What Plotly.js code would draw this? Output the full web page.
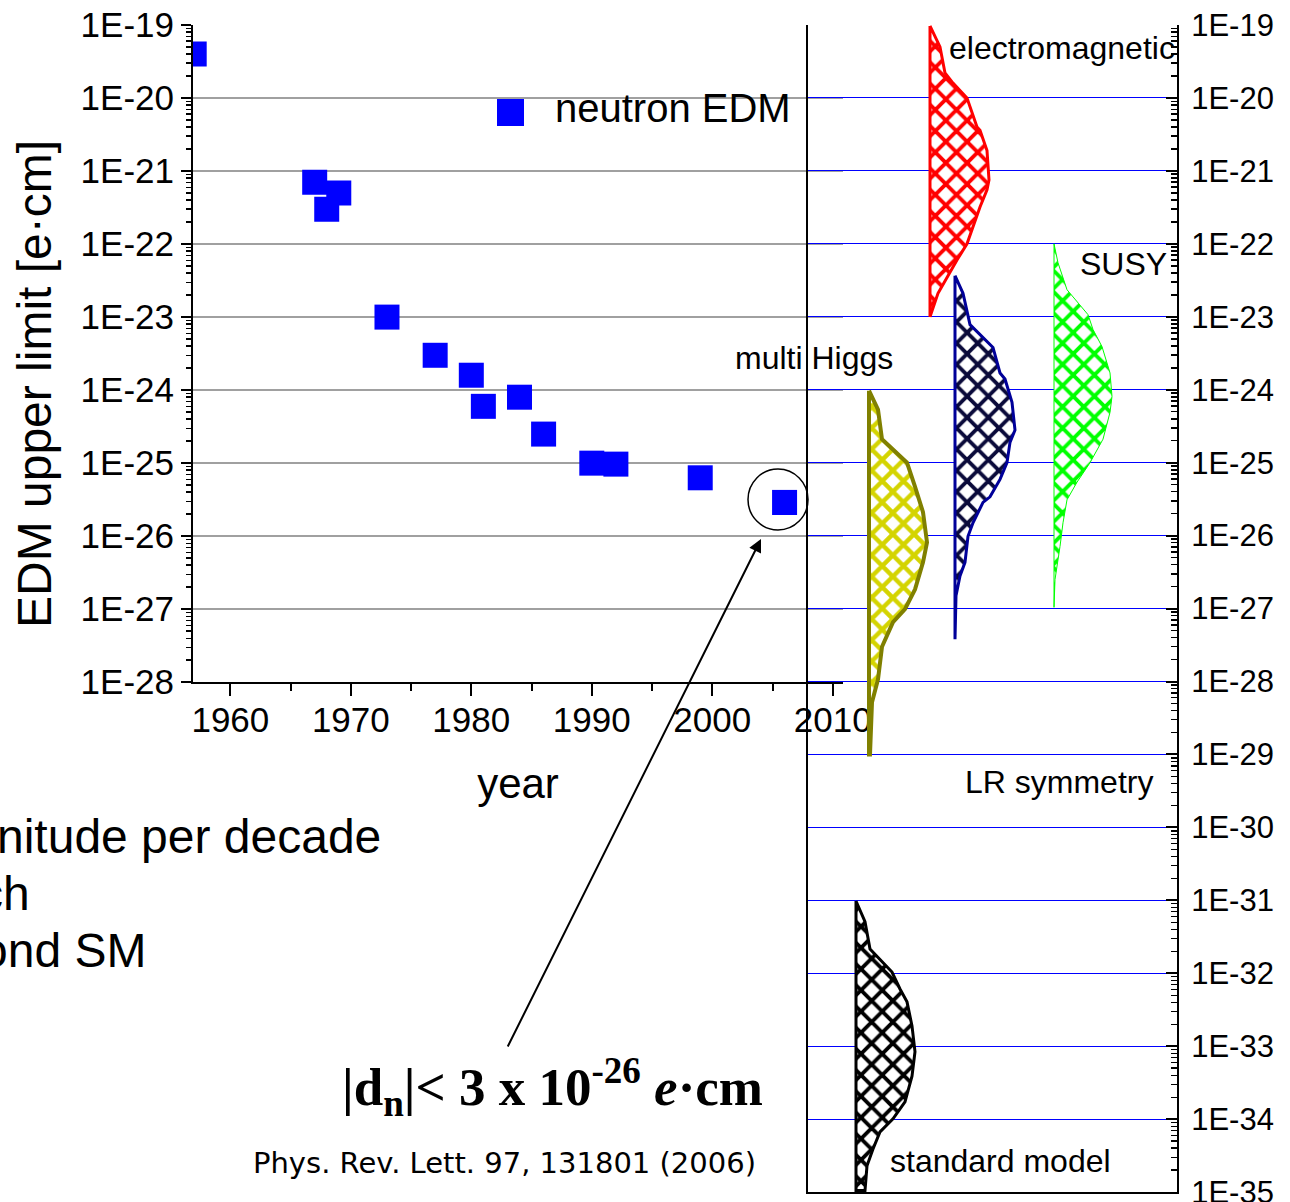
<!DOCTYPE html>
<html><head><meta charset="utf-8">
<script src="https://cdn.plot.ly/plotly-3.0.1.min.js"></script>
<style>html,body{margin:0;padding:0;background:#fff;}#chart{width:1290px;height:1202px;}</style>
</head><body><div id="chart"></div>
<script>
// ---- measured neutron EDM upper limits ----
const years = [1957, 1967, 1968, 1969, 1973, 1977, 1980, 1981, 1984, 1986, 1990, 1992, 1999, 2006];
const edmLimits = [4e-20, 7e-22, 3e-22, 5e-22, 1e-23, 3e-24, 1.6e-24, 6e-25, 8e-25, 2.5e-25, 1.0e-25, 0.97e-25, 6.3e-26, 2.9e-26];

// ---- tick labels ----
const yearTicks = [1960, 1970, 1980, 1990, 2000, 2010];
const yearTickText = ['1960', '1970', '1980', '1990', '2000', '2010'];
const yearMinor = [1965, 1975, 1985, 1995, 2005];
const leftExponents = [-19, -20, -21, -22, -23, -24, -25, -26, -27, -28];
const leftTickText = ['1E-19','1E-20','1E-21','1E-22','1E-23','1E-24','1E-25','1E-26','1E-27','1E-28'];
const rightExponents = [-19,-20,-21,-22,-23,-24,-25,-26,-27,-28,-29,-30,-31,-32,-33,-34,-35];
const rightTickText = ['1E-19','1E-20','1E-21','1E-22','1E-23','1E-24','1E-25','1E-26','1E-27','1E-28','1E-29','1E-30','1E-31','1E-32','1E-33','1E-34','1E-35'];

// ---- theory predictions: EDM value and profile width ----
const emEDM = [9.7e-20, 5.0e-20, 2.2e-20, 1.6e-20, 1.0e-20, 4.0e-21, 3.6e-21, 1.9e-21, 7.5e-22, 5.5e-22, 3.2e-22, 1.7e-22, 1.0e-22, 6.0e-23, 3.5e-23, 2.1e-23, 1.0e-23];
const emWidth = [0, 10, 15, 23, 37, 47, 50, 57, 59, 57, 50, 43, 37, 27, 17, 8, 0];

const lrEDM = [3.66e-23, 2.1e-23, 7.8e-24, 3.8e-24, 1.7e-24, 1.4e-24, 6.7e-25, 2.8e-25, 1.9e-25, 1.0e-25, 5.9e-26, 3.4e-26, 2.85e-26, 1.5e-26, 9.8e-27, 4.3e-27, 2.8e-27, 1.5e-27, 3.8e-28];
const lrWidth = [0, 8, 15, 38, 45, 50, 57, 60, 55, 52, 45, 35, 28, 18, 13, 10, 5, 1, 0];

const susyEDM = [1.0e-22, 5.5e-23, 2.35e-23, 1.07e-23, 6.7e-24, 3.9e-24, 1.7e-24, 8.1e-25, 4.9e-25, 2.1e-25, 1.0e-25, 5.4e-26, 3.1e-26, 1.5e-26, 7.1e-27, 2.5e-27, 1.04e-27];
const susyWidth = [0, 4, 13, 34, 39, 48, 56, 58, 56, 49, 36, 23, 13, 9, 6, 1, 0];

const higgsEDM = [9.7e-25, 5.35e-25, 2.1e-25, 1.38e-25, 1.0e-25, 4.7e-26, 2.1e-26, 8.1e-27, 4.3e-27, 1.83e-27, 9.8e-28, 6.5e-28, 3.0e-28, 1.07e-28, 5.2e-29, 1.0e-29];
const higgsWidth = [0, 9, 13, 28, 38, 46, 54, 58, 54, 46, 36, 24, 13, 9, 3, 1];

const smEDM = [9.8e-32, 5.1e-32, 2.16e-32, 1.04e-32, 6.1e-33, 4.06e-33, 1.9e-33, 8.4e-34, 3.9e-34, 1.73e-34, 1.01e-34, 6.7e-35, 3.9e-35, 2.3e-35, 1.05e-35];
const smWidth = [0, 9, 14, 36, 44, 51, 56, 59, 56, 49, 37, 24, 17, 11, 9];

// ---- geometry helpers (pixels -> paper) ----
const W = 1290, H = 1202;
const px = v => v / W;
const py = v => 1 - v / H;
const FONT = "'Liberation Sans', Arial, Helvetica, sans-serif";

const leftTickVals = leftExponents.map(e => Math.pow(10, e));
const rightTickVals = rightExponents.map(e => Math.pow(10, e));
function minorVals(exps) {
  const out = [];
  exps.forEach(e => { for (let k = 2; k <= 9; k++) out.push(k * Math.pow(10, e)); });
  return out;
}

function band(base, edm, width, name, lineColor, lineW, fg, sol) {
  const xs = [], ys = [];
  for (let i = 0; i < edm.length; i++) { xs.push(base + width[i]); ys.push(edm[i]); }
  xs.push(base); ys.push(edm[edm.length - 1]);
  xs.push(base); ys.push(edm[0]);
  return {
    type: 'scatter', mode: 'lines', name: name, x: xs, y: ys,
    xaxis: 'x2', yaxis: 'y2', fill: 'toself', fillcolor: 'white',
    line: { color: lineColor, width: lineW, shape: 'linear' },
    fillpattern: { shape: 'x', size: 15, solidity: sol, fgcolor: fg, bgcolor: 'white' },
    hoverinfo: 'skip', showlegend: false
  };
}

const traces = [
  {
    type: 'scatter', mode: 'markers', name: 'neutron EDM', x: years, y: edmLimits,
    xaxis: 'x', yaxis: 'y', cliponaxis: true,
    marker: { symbol: 'square', size: 25, color: '#0000ff', line: { width: 0 } },
    showlegend: false
  },
  band(122, emEDM, emWidth, 'electromagnetic', '#ff0000', 3, '#ff0000', 0.45),
  band(147, lrEDM, lrWidth, 'LR symmetry', '#000099', 3, '#0a0a3a', 0.45),
  band(246, susyEDM, susyWidth, 'SUSY', '#00ff00', 1, '#00ff00', 0.45),
  band(61, higgsEDM, higgsWidth, 'multi Higgs', '#808000', 4, '#d4d400', 0.5),
  band(48, smEDM, smWidth, 'standard model', '#000000', 3, '#000000', 0.45)
];

const layout = {
  width: W, height: H,
  margin: { l: 0, r: 0, t: 0, b: 0 },
  paper_bgcolor: 'white', plot_bgcolor: 'rgba(0,0,0,0)',
  showlegend: false,
  font: { family: FONT, color: 'black' },
  xaxis: {
    domain: [px(193), px(843)], range: [1956.9, 2010.85], anchor: 'y',
    showline: true, linecolor: 'black', linewidth: 2,
    ticks: 'outside', ticklen: 12, tickwidth: 2, tickcolor: 'black',
    tickmode: 'array', tickvals: yearTicks, ticktext: yearTickText,
    tickfont: { family: FONT, size: 35, color: 'black' },
    ticklabelstandoff: -6,
    minor: { tickmode: 'array', tickvals: yearMinor, ticks: 'outside', ticklen: 7, tickwidth: 2, tickcolor: 'black', showgrid: false },
    showgrid: false, zeroline: false,
    title: { text: 'year', font: { family: FONT, size: 42, color: 'black' }, standoff: 30 }
  },
  yaxis: {
    type: 'log', domain: [py(682.3), py(25)], range: [-28.001, -19], anchor: 'x',
    showline: true, linecolor: 'black', linewidth: 2,
    ticks: 'outside', ticklen: 10, tickwidth: 2, tickcolor: 'black',
    tickmode: 'array', tickvals: leftTickVals, ticktext: leftTickText,
    tickfont: { family: FONT, size: 35, color: 'black' },
    minor: { tickmode: 'array', tickvals: minorVals(leftExponents), ticks: 'outside', ticklen: 5, tickwidth: 1.5, tickcolor: 'black', showgrid: false },
    showgrid: true, gridcolor: '#a0a0a0', gridwidth: 1.5, zeroline: false
  },
  xaxis2: {
    domain: [px(808), px(1177)], range: [0, 369], anchor: 'y2',
    showline: true, linecolor: 'black', linewidth: 2,
    showticklabels: false, ticks: '', showgrid: false, zeroline: false
  },
  yaxis2: {
    type: 'log', domain: [py(1192.3), py(25)], range: [-35.002, -19], anchor: 'x2', side: 'right',
    showline: true, mirror: true, linecolor: 'black', linewidth: 2,
    ticks: 'inside', ticklen: 11, tickwidth: 2, tickcolor: 'black',
    tickmode: 'array', tickvals: rightTickVals, ticktext: rightTickText,
    tickfont: { family: FONT, size: 31, color: 'black' },
    ticklabelstandoff: 6, ticklabeloverflow: 'allow',
    minor: { tickmode: 'array', tickvals: minorVals(rightExponents), ticks: 'inside', ticklen: 6, tickwidth: 1.5, tickcolor: 'black', showgrid: false },
    showgrid: true, gridcolor: '#0000ff', gridwidth: 1, zeroline: false
  },
  shapes: [
    { type: 'rect', xref: 'paper', yref: 'paper', x0: px(497), x1: px(524), y0: py(126), y1: py(99), fillcolor: '#0000ff', line: { width: 0 } },
    { type: 'circle', xref: 'paper', yref: 'paper', x0: px(748), x1: px(808), y0: py(530), y1: py(469), line: { color: 'black', width: 1.5 } }
  ],
  annotations: [
    { xref: 'paper', yref: 'paper', x: px(553), y: py(108), xanchor: 'left', yanchor: 'middle', showarrow: false,
      text: 'neutron EDM', font: { family: FONT, size: 40, color: 'black' } },
    { xref: 'paper', yref: 'paper', x: px(35), y: py(384), xanchor: 'center', yanchor: 'middle', showarrow: false, textangle: -90,
      text: 'EDM upper limit [e·cm]', font: { family: FONT, size: 48, color: 'black' } },
    { xref: 'paper', yref: 'paper', x: px(1062), y: py(48), xanchor: 'center', yanchor: 'middle', showarrow: false,
      text: 'electromagnetic', font: { family: FONT, size: 32, color: 'black' } },
    { xref: 'paper', yref: 'paper', x: px(1123), y: py(264), xanchor: 'center', yanchor: 'middle', showarrow: false,
      text: 'SUSY', font: { family: FONT, size: 32, color: 'black' } },
    { xref: 'paper', yref: 'paper', x: px(814), y: py(358), xanchor: 'center', yanchor: 'middle', showarrow: false,
      text: 'multi Higgs', font: { family: FONT, size: 32, color: 'black' } },
    { xref: 'paper', yref: 'paper', x: px(1059), y: py(782), xanchor: 'center', yanchor: 'middle', showarrow: false,
      text: 'LR symmetry', font: { family: FONT, size: 32, color: 'black' } },
    { xref: 'paper', yref: 'paper', x: px(1000), y: py(1161), xanchor: 'center', yanchor: 'middle', showarrow: false,
      text: 'standard model', font: { family: FONT, size: 32, color: 'black' } },
    { xref: 'paper', yref: 'paper', x: px(383), y: py(836), xanchor: 'right', yanchor: 'middle', showarrow: false,
      text: 'nitude per decade', font: { family: FONT, size: 48, color: 'black' } },
    { xref: 'paper', yref: 'paper', x: px(32), y: py(893), xanchor: 'right', yanchor: 'middle', showarrow: false,
      text: 'ch', font: { family: FONT, size: 48, color: 'black' } },
    { xref: 'paper', yref: 'paper', x: px(148), y: py(950), xanchor: 'right', yanchor: 'middle', showarrow: false,
      text: 'ond SM', font: { family: FONT, size: 48, color: 'black' } },
    { xref: 'paper', yref: 'paper', x: px(552), y: py(1087), xanchor: 'center', yanchor: 'middle', showarrow: false,
      text: '<b>|d<sub>n</sub>|&lt; 3 x 10<sup>-26</sup> <i>e</i>·cm</b>', font: { family: "'Liberation Serif', 'Times New Roman', serif", size: 53, color: 'black' } },
    { xref: 'paper', yref: 'paper', x: px(505), y: py(1163), xanchor: 'center', yanchor: 'middle', showarrow: false,
      text: 'Phys. Rev. Lett. 97, 131801 (2006)', font: { family: "'DejaVu Sans', sans-serif", size: 29, color: 'black' } },
    { xref: 'paper', yref: 'paper', x: px(761), y: py(539), axref: 'pixel', ayref: 'pixel', ax: -254, ay: 509,
      showarrow: true, arrowhead: 2, arrowsize: 1.3, arrowwidth: 2, arrowcolor: 'black', text: '', standoff: 0 }
  ]
};

Plotly.newPlot('chart', traces, layout, { displayModeBar: false, staticPlot: true });
</script>
</body></html>
